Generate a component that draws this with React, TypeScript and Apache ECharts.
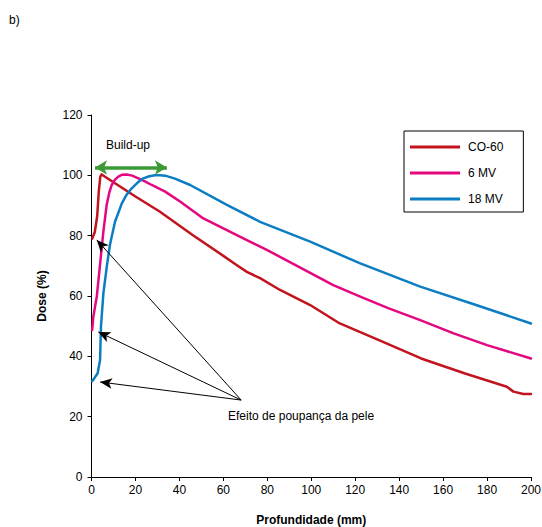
import React, { useEffect, useRef } from "react";
import * as echarts from "echarts";

const seriesNames = ["CO-60", "6 MV", "18 MV"];
const seriesColors = ["#C1141E", "#E5077F", "#0B7DC3"];

const co60X = [0.3, 1.5, 2.6, 3.3, 4.0, 4.6, 10, 20, 31, 46, 60, 66, 70.7, 76.7, 85.8, 99.5, 113, 130, 150, 170, 189, 192, 196.5, 200];
const co60Y = [79, 81.2, 86.5, 94.5, 99.6, 100.3, 97.7, 93, 88, 80.2, 73.3, 70.3, 68, 65.9, 62, 57, 50.9, 45.6, 39.3, 34.3, 29.9, 28.3, 27.5, 27.5];

const mv6X = [0.3, 0.8, 2.4, 3.9, 5.4, 6.9, 8.0, 9.2, 10.6, 12.2, 14, 16, 18.5, 21.3, 24.3, 27.4, 33.5, 40.3, 50.9, 60, 69.1, 80, 95, 110, 122.3, 135, 149.6, 164.8, 180, 200];
const mv6Y = [48.7, 53, 59.8, 70.5, 81.3, 90.2, 94, 96.8, 98.5, 99.6, 100.2, 100.3, 99.9, 99, 98, 96.8, 94.6, 91.3, 85.7, 82.4, 79.1, 75.2, 69.4, 63.6, 59.8, 56, 52, 47.6, 43.7, 39.3];

const mv18X = [0.3, 0.8, 2.8, 3.9, 4.3, 5.4, 7.0, 8.4, 10.7, 13.8, 16, 18.3, 21, 23.6, 26.3, 28.9, 31.2, 33.5, 38, 44.9, 61.6, 76.7, 99.5, 122.3, 149.6, 175, 200];
const mv18Y = [31.8, 32.2, 34.4, 38.8, 49.8, 60.9, 70, 77, 84.6, 90.7, 93.6, 95.7, 97.6, 99, 99.7, 100, 100, 99.9, 98.9, 96.8, 90.2, 84.6, 78, 70.8, 63.1, 57, 50.9];

const xTicks = { min: 0, max: 200, interval: 20 };
const yTicks = { min: 0, max: 120, interval: 20 };

// annotation arrows (data coordinates): origin -> tips
const arrowOrigin = [68.1, 25.5];
const arrowTips = [
  [2.4, 78.6],
  [3.1, 48.1],
  [3.9, 31.5],
];
const buildUpRange = [[1.6, 102.6], [34.3, 102.6]];

const FONT = "'Liberation Sans', Arial, Helvetica, sans-serif";

function zip(xs: number[], ys: number[]) {
  return xs.map((x, i) => [x, ys[i]]);
}

export default function App() {
  const ref = useRef<HTMLDivElement>(null);
  useEffect(() => {
    if (!ref.current) return;
    const chart = echarts.init(ref.current, null, { renderer: "svg" });
    const datasets = [zip(co60X, co60Y), zip(mv6X, mv6Y), zip(mv18X, mv18Y)];
    const series: any[] = datasets.map((d, i) => ({
      name: seriesNames[i],
      type: "line",
      data: d,
      showSymbol: false,
      symbol: "none",
      smooth: false,
      lineStyle: { color: seriesColors[i], width: 2.5, join: "round", cap: "round" },
      itemStyle: { color: seriesColors[i] },
      z: 3,
    }));
    series.push({
      name: "annotations",
      type: "line",
      data: [],
      silent: true,
      markLine: {
        silent: true,
        animation: false,
        label: { show: false },
        emphasis: { disabled: true },
        data: [
          ...arrowTips.map((t) => [
            { coord: arrowOrigin, symbol: "none", lineStyle: { color: "#000", width: 1, type: "solid" } },
            { coord: t, symbol: "arrow", symbolSize: [8, 12] },
          ]),
          [
            { coord: buildUpRange[0], symbol: "arrow", symbolSize: [11, 12], lineStyle: { color: "#3A9A35", width: 3.5, type: "solid" } },
            { coord: buildUpRange[1], symbol: "arrow", symbolSize: [11, 12] },
          ],
        ],
      },
    });
    chart.setOption({
      animation: false,
      backgroundColor: "#fff",
      textStyle: { fontFamily: FONT },
      grid: { left: 91.5, right: 11, top: 115, bottom: 50, containLabel: false, outerBoundsMode: "none" },
      legend: {
        data: seriesNames,
        orient: "vertical",
        left: 404,
        top: 131,
        icon: "rect",
        itemWidth: 50,
        itemHeight: 3,
        itemGap: 14,
        padding: [10, 20, 7, 6],
        borderColor: "#000",
        borderWidth: 1,
        textStyle: { fontFamily: FONT, fontSize: 12, color: "#000", padding: [0, 0, 0, 3] },
      },
      xAxis: {
        type: "value",
        ...xTicks,
        name: "Profundidade (mm)",
        nameLocation: "middle",
        nameGap: 37,
        nameTextStyle: { fontFamily: FONT, fontSize: 12, fontWeight: "bold", color: "#000" },
        axisLine: { lineStyle: { color: "#000", width: 1 } },
        axisTick: { show: true, length: 4, lineStyle: { color: "#000" } },
        axisLabel: { margin: 7, fontSize: 12, color: "#000", fontFamily: FONT },
        splitLine: { show: false },
      },
      yAxis: {
        type: "value",
        ...yTicks,
        name: "Dose (%)",
        nameLocation: "middle",
        nameGap: 44,
        nameRotate: 90,
        nameTextStyle: { fontFamily: FONT, fontSize: 12, fontWeight: "bold", color: "#000" },
        axisLine: { show: true, lineStyle: { color: "#000", width: 1 } },
        axisTick: { show: true, length: 4, lineStyle: { color: "#000" } },
        axisLabel: { margin: 9, fontSize: 12, color: "#000", fontFamily: FONT },
        splitLine: { show: false },
      },
      graphic: [
        { type: "text", left: 9, top: 14, style: { text: "b)", font: `12px ${FONT}`, fill: "#000" } },
        { type: "text", x: 106, y: 145, style: { text: "Build-up", font: `12px ${FONT}`, fill: "#000", verticalAlign: "middle" } },
        { type: "text", x: 228, y: 416, style: { text: "Efeito de poupança da pele", font: `12px ${FONT}`, fill: "#000", verticalAlign: "middle" } },
      ],
      series,
    });
    return () => chart.dispose();
  }, []);
  return (
    <div
      ref={ref}
      style={{ position: "fixed", left: 0, top: 0, width: 542, height: 527, background: "#fff" }}
    />
  );
}
